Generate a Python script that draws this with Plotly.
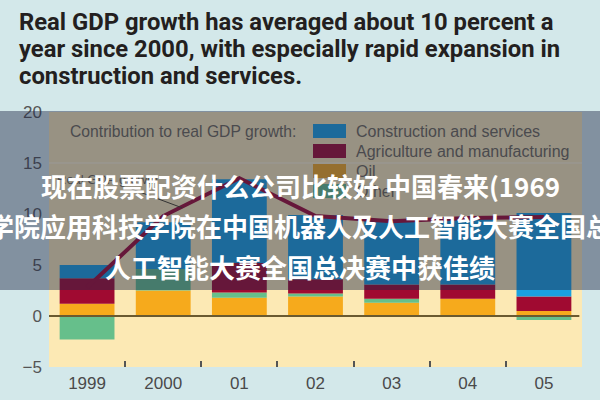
import plotly.graph_objects as go

# ---------------- data ----------------
years = ["1999", "2000", "01", "02", "03", "04", "05"]
oil = [1.2, 2.5, 1.8, 1.9, 1.3, 1.7, 0.5]
other = [-2.3, 2.1, 0.5, 0.3, 0.4, 0.0, -0.4]
agri = [2.5, 0.0, 2.9, 1.4, 1.4, 1.4, 1.4]
constr = [1.3, 4.6, 8.2, 6.3, 6.3, 6.5, 8.2]
growth = [2.8, 9.8, 13.5, 9.8, 9.3, 9.6, 9.7]

series_names = ["Construction and services", "Agriculture and manufacturing", "Oil", "Other"]
y_ticks = [-5, 0, 5, 10, 15, 20]

title_lines = [
    "Real GDP growth has averaged about 10 percent a",
    "year since 2000, with especially rapid expansion in",
    "construction and services.",
]
legend_title = "Contribution to real GDP growth:"
line_label = "Real GDP growth"
overlay_lines = [
    "现在股票配资什么公司比较好 中国春来(1969",
    "学院应用科技学院在中国机器人及人工智能大赛全国总",
    "人工智能大赛全国总决赛中获佳绩",
]

# ---------------- style ----------------
C_BLUE = "#1aa0e0"
C_RED = "#a00a31"
C_ORANGE = "#f6aa1c"
C_GREEN = "#66bf8b"
PAPER = "#d3e8ea"
PLOT = "#fce9b4"

W, H = 600, 400
L, R, T, B = 49, 18, 112, 33
PW, PH = W - L - R, H - T - B


def px(x):
    return (x - L) / PW


def py(y):
    return (H - B - y) / PH


fig = go.Figure()
fig.add_trace(go.Bar(x=years, y=oil, name=series_names[2], marker=dict(color=C_ORANGE, line=dict(width=0))))
fig.add_trace(go.Bar(x=years, y=other, name=series_names[3], marker=dict(color=C_GREEN, line=dict(width=0))))
fig.add_trace(go.Bar(x=years, y=agri, name=series_names[1], marker=dict(color=C_RED, line=dict(width=0))))
fig.add_trace(go.Bar(x=years, y=constr, name=series_names[0], marker=dict(color=C_BLUE, line=dict(width=0))))
fig.add_trace(go.Scatter(x=years, y=growth, mode="lines", name=line_label,
                         line=dict(color=C_RED, width=4)))

shapes = []
# gridline at 15
shapes.append(dict(type="line", xref="paper", yref="y", x0=0, x1=1, y0=15, y1=15,
                   line=dict(color="#fff6da", width=1), layer="below"))
# zero line
shapes.append(dict(type="line", xref="paper", yref="y", x0=0, x1=0.995, y0=0, y1=0,
                   line=dict(color="#6a5a30", width=2), layer="above"))
# legend swatches
sw_cols = [C_BLUE, C_RED, C_ORANGE, C_GREEN]
sw_y = [131, 151, 171, 191]
for c, yc in zip(sw_cols, sw_y):
    shapes.append(dict(type="rect", xref="paper", yref="paper",
                       x0=px(313), x1=px(346), y0=py(yc + 7), y1=py(yc - 7),
                       fillcolor=c, line=dict(width=0), layer="above"))
# translucent dark band
shapes.append(dict(type="rect", xref="paper", yref="paper",
                   x0=px(0), x1=px(600), y0=py(290), y1=py(111),
                   fillcolor="rgba(30,40,70,0.45)", line=dict(width=0), layer="above"))

ann = []
for i, t in enumerate(title_lines):
    ann.append(dict(text=t, xref="paper", yref="paper", x=px(17), y=py(22 + 27 * i),
                    xanchor="left", yanchor="middle", showarrow=False,
                    font=dict(family="Roboto", size=23.8, color="#231f20", weight="bold")))
ann.append(dict(text=legend_title, xref="paper", yref="paper", x=px(68), y=py(131),
                xanchor="left", yanchor="middle", showarrow=False,
                font=dict(family="Liberation Sans", size=15.7, color="#4a4a4e")))
for name, yc in zip(series_names, sw_y):
    ann.append(dict(text=name, xref="paper", yref="paper", x=px(354), y=py(yc),
                    xanchor="left", yanchor="middle", showarrow=False,
                    font=dict(family="Liberation Sans", size=16, color="#4a4a4e")))
ann.append(dict(text=line_label, x=1.25, y=10.6, xref="x", yref="y",
                ax=-75, ay=-28, showarrow=True, arrowhead=0, arrowwidth=1, arrowcolor="#333",
                font=dict(family="Liberation Sans", size=13, color="#4a4a4e")))
for i, t in enumerate(overlay_lines):
    ann.append(dict(text=t, xref="paper", yref="paper", x=px(300), y=py(185 + 40.5 * i),
                    xanchor="center", yanchor="middle", showarrow=False,
                    font=dict(family="Noto Sans CJK SC", size=26, color="white", weight="bold")))

fig.update_layout(
    width=W, height=H,
    margin=dict(l=L, r=R, t=T, b=B, pad=0, autoexpand=False),
    paper_bgcolor=PAPER, plot_bgcolor=PLOT,
    barmode="relative", bargap=0.28,
    showlegend=False,
    shapes=shapes, annotations=ann,
    xaxis=dict(type="category", tickson="boundaries", ticks="inside", ticklen=6, tickwidth=2,
               tickcolor="#555", showgrid=False, zeroline=False, showline=False,
               tickfont=dict(family="Liberation Sans", size=17, color="#4a4a4a"),
               ticklabelstandoff=4, automargin=False),
    yaxis=dict(range=[-5, 20], tickvals=y_ticks, showgrid=False, zeroline=False, ticks="",
               tickfont=dict(family="Liberation Sans", size=17, color="#555"),
               ticklabelstandoff=6, automargin=False),
)

fig.write_html("out.html")
